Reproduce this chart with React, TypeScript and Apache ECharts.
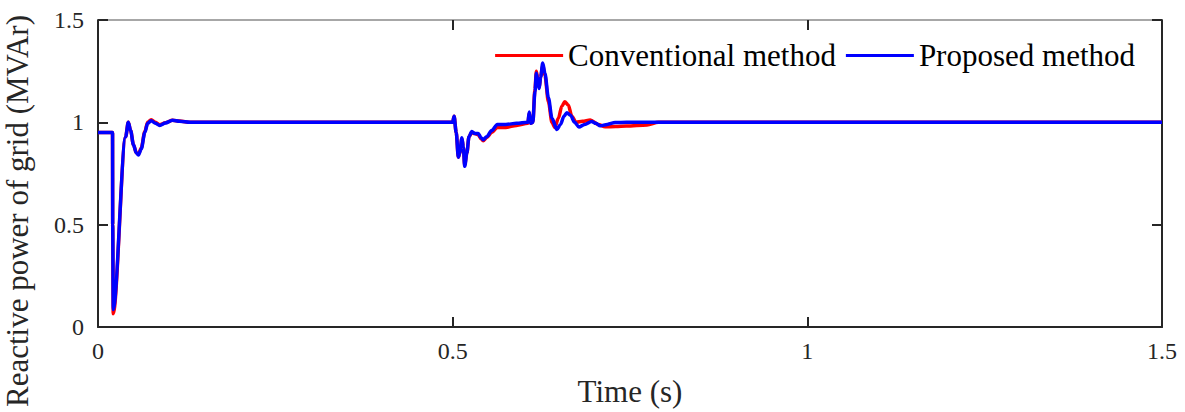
import React, { useEffect, useRef } from "react";
import * as echarts from "echarts";

const xTicks = [0, 0.5, 1, 1.5];
const yTicks = [0, 0.5, 1, 1.5];
const seriesNames = ["Conventional method", "Proposed method"];
const xTitle = "Time (s)";
const yTitle = "Reactive power of grid (MVAr)";

// [time (s), reactive power (MVAr)]
const conventional: number[][] = [
  [0, 0.95], [0.0205, 0.95], [0.0207, 0.5], [0.0215, 0.065],
  [0.039, 0.93], [0.0427, 1.0], [0.046, 0.96],
  [0.05, 0.89], [0.054, 0.852], [0.057, 0.845], [0.061, 0.875], [0.066, 0.955],
  [0.07, 1.0], [0.075, 1.013], [0.081, 1.0], [0.087, 0.988], [0.095, 0.998],
  [0.105, 1.01], [0.115, 1.006], [0.13, 1.0], [0.5, 1.0],
  [0.502, 1.03], [0.505, 0.95], [0.508, 0.83], [0.51, 0.85], [0.513, 0.92],
  [0.515, 0.88], [0.517, 0.79], [0.52, 0.85], [0.523, 0.93], [0.527, 0.95],
  [0.531, 0.945], [0.536, 0.94], [0.54, 0.92], [0.543, 0.91], [0.548, 0.925],
  [0.555, 0.95], [0.563, 0.975], [0.575, 0.975], [0.59, 0.985], [0.606, 0.995],
  [0.608, 1.045], [0.61, 0.995], [0.613, 1.0], [0.616, 1.16], [0.618, 1.25],
  [0.62, 1.21], [0.622, 1.17], [0.624, 1.22], [0.627, 1.28], [0.63, 1.23],
  [0.635, 1.1], [0.64, 1.0], [0.644, 0.975], [0.649, 1.02], [0.654, 1.08],
  [0.658, 1.1], [0.663, 1.085], [0.668, 1.03], [0.674, 1.0], [0.683, 1.005],
  [0.694, 1.011], [0.705, 0.99], [0.715, 0.978], [0.73, 0.98], [0.745, 0.982],
  [0.774, 0.987], [0.79, 1.0], [1.5, 1.0],
];

const proposed: number[][] = [
  [0, 0.95], [0.0205, 0.95], [0.0207, 0.5], [0.0215, 0.085],
  [0.039, 0.93], [0.0427, 1.0], [0.046, 0.96],
  [0.05, 0.89], [0.054, 0.85], [0.057, 0.84], [0.061, 0.87], [0.066, 0.95],
  [0.07, 0.995], [0.075, 1.008], [0.081, 0.995], [0.087, 0.985], [0.095, 0.997],
  [0.105, 1.01], [0.115, 1.005], [0.13, 1.0], [0.5, 1.0],
  [0.502, 1.03], [0.505, 0.95], [0.508, 0.83], [0.51, 0.85], [0.513, 0.925],
  [0.515, 0.88], [0.517, 0.785], [0.52, 0.85], [0.523, 0.93], [0.527, 0.955],
  [0.531, 0.945], [0.536, 0.945], [0.54, 0.925], [0.543, 0.915], [0.548, 0.93],
  [0.555, 0.96], [0.563, 0.99], [0.575, 0.99], [0.59, 0.995], [0.606, 1.0],
  [0.608, 1.05], [0.61, 0.995], [0.613, 1.0], [0.616, 1.15], [0.618, 1.24],
  [0.62, 1.2], [0.622, 1.165], [0.624, 1.22], [0.627, 1.29], [0.63, 1.24],
  [0.635, 1.12], [0.64, 1.02], [0.647, 0.965], [0.652, 0.99], [0.657, 1.03],
  [0.661, 1.047], [0.666, 1.035], [0.672, 1.0], [0.678, 0.977], [0.686, 0.99],
  [0.696, 1.004], [0.702, 0.995], [0.708, 0.983], [0.718, 0.99], [0.729, 0.999],
  [0.745, 1.0], [0.76, 1.0], [1.5, 1.0],
];

const FONT = "Liberation Serif";
const DARK = "#262626";

export default function App() {
  const ref = useRef<HTMLDivElement>(null);

  useEffect(() => {
    if (!ref.current) return;
    const chart = echarts.init(ref.current, undefined, { renderer: "svg" });
    const baseAxis = {
      type: "value" as const,
      min: xTicks[0],
      max: xTicks[xTicks.length - 1],
      interval: 0.5,
      splitLine: { show: false },
    };
    chart.setOption({
      animation: false,
      backgroundColor: "#ffffff",
      grid: {
        left: 98,
        right: 23,
        top: 20,
        bottom: 85,
        containLabel: false,
        outerBoundsMode: "none",
      },
      legend: {
        data: seriesNames,
        right: 50,
        top: 40,
        padding: 0,
        icon: "rect",
        itemWidth: 68,
        itemHeight: 3,
        itemGap: 10,
        textStyle: { fontFamily: FONT, fontSize: 31, color: "#000" },
      },
      graphic: [
        {
          type: "text",
          x: 17,
          y: 211,
          rotation: Math.PI / 2,
          silent: true,
          style: {
            text: yTitle,
            fontFamily: FONT,
            fontSize: 31,
            fill: DARK,
            textAlign: "center",
            textVerticalAlign: "middle",
          },
        },
      ],
      xAxis: [
        {
          ...baseAxis,
          position: "bottom",
          name: xTitle,
          nameLocation: "middle",
          nameGap: 49,
          nameTextStyle: { fontFamily: FONT, fontSize: 31, color: DARK },
          axisLine: { show: true, onZero: false, lineStyle: { color: DARK, width: 2 } },
          axisTick: { show: true, inside: true, length: 10, lineStyle: { color: DARK, width: 2 } },
          axisLabel: {
            fontFamily: FONT,
            fontSize: 24,
            color: DARK,
            margin: 12,
            formatter: (v: number) => String(v),
          },
        },
        {
          ...baseAxis,
          position: "top",
          axisLine: { show: true, onZero: false, lineStyle: { color: "#8a8a8a", width: 1.5 } },
          axisTick: { show: true, inside: true, length: 10, lineStyle: { color: DARK, width: 2 } },
          axisLabel: { show: false },
        },
      ],
      yAxis: [
        {
          type: "value",
          min: yTicks[0],
          max: yTicks[yTicks.length - 1],
          interval: 0.5,
          position: "left",
          splitLine: { show: false },
          axisLine: { show: true, onZero: false, lineStyle: { color: DARK, width: 2 } },
          axisTick: { show: true, inside: true, length: 10, lineStyle: { color: DARK, width: 2 } },
          axisLabel: {
            fontFamily: FONT,
            fontSize: 24,
            color: DARK,
            margin: 14,
            formatter: (v: number) => String(v),
          },
        },
        {
          type: "value",
          min: yTicks[0],
          max: yTicks[yTicks.length - 1],
          interval: 0.5,
          position: "right",
          splitLine: { show: false },
          axisLine: { show: true, onZero: false, lineStyle: { color: DARK, width: 2 } },
          axisTick: { show: true, inside: true, length: 10, lineStyle: { color: DARK, width: 2 } },
          axisLabel: { show: false },
        },
      ],
      series: [
        {
          name: seriesNames[0],
          type: "line",
          xAxisIndex: 0,
          yAxisIndex: 0,
          data: conventional,
          showSymbol: false,
          smooth: 0.3,
          smoothMonotone: "x",
          lineStyle: { color: "#ff0000", width: 3.5 },
          itemStyle: { color: "#ff0000" },
          z: 2,
        },
        {
          name: seriesNames[1],
          type: "line",
          xAxisIndex: 0,
          yAxisIndex: 0,
          data: proposed,
          showSymbol: false,
          smooth: 0.3,
          smoothMonotone: "x",
          lineStyle: { color: "#0000ff", width: 3.5 },
          itemStyle: { color: "#0000ff" },
          z: 3,
        },
      ],
    });
    return () => chart.dispose();
  }, []);

  return (
    <div
      ref={ref}
      style={{ position: "fixed", left: 0, top: 0, width: 1185, height: 412, background: "#fff" }}
    />
  );
}
